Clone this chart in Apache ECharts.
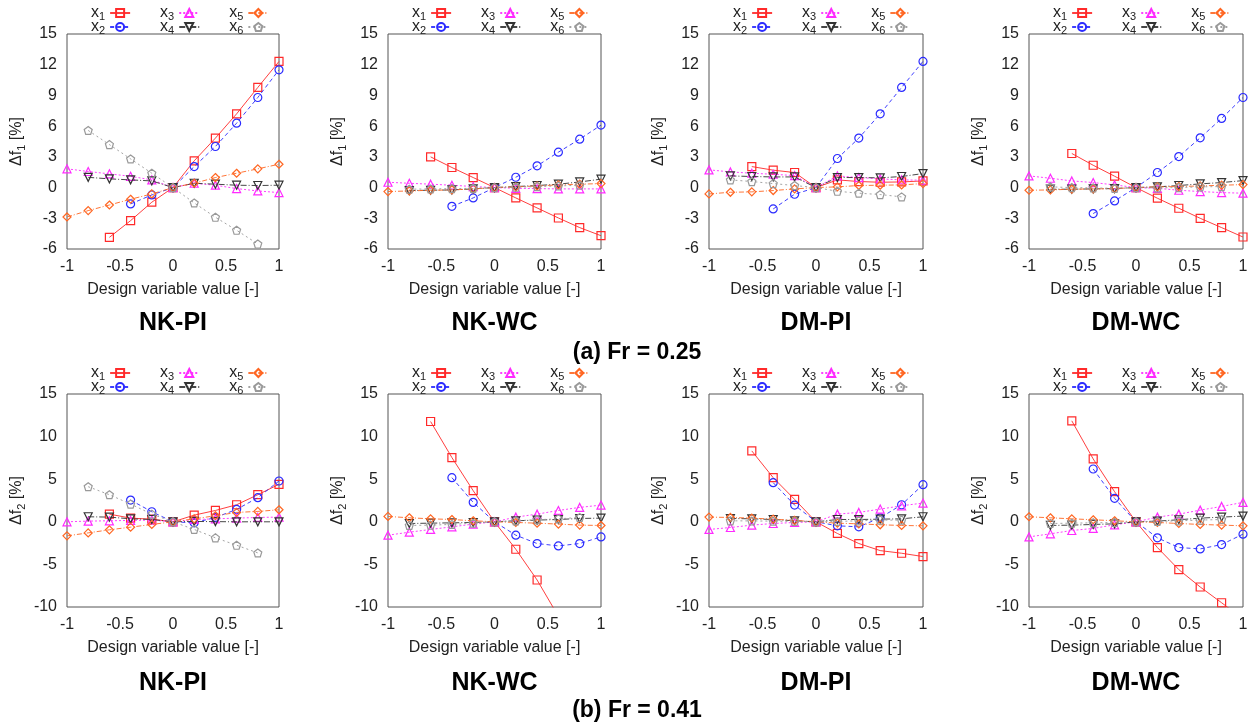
<!DOCTYPE html>
<html>
<head>
<meta charset="utf-8">
<script src="https://cdn.jsdelivr.net/npm/echarts@6/dist/echarts.min.js"></script>
<style>
html,body{margin:0;padding:0;background:#fff;}
#chart{width:1251px;height:722px;}
</style>
</head>
<body>
<div id="chart"></div>
<script>
// ---------- data ----------
const X = [-1, -0.8, -0.6, -0.4, -0.2, 0, 0.2, 0.4, 0.6, 0.8, 1];
const VAR_NAMES = ['x1', 'x2', 'x3', 'x4', 'x5', 'x6'];
const PANEL_TITLES = ['NK-PI', 'NK-WC', 'DM-PI', 'DM-WC'];
const ROW_CAPTIONS = ['(a) Fr = 0.25', '(b) Fr = 0.41'];
const X_NAME = 'Design variable value [-]';

// Fr = 0.25, Δf1 [%]  (rows: x1..x6, columns follow X)
const nkPi025 = [
  [null, null, -4.86, -3.23, -1.43, 0, 2.61, 4.83, 7.2, 9.78, 12.32],
  [null, null, null, -1.6, -0.72, 0, 2.05, 4.01, 6.29, 8.8, 11.5],
  [1.83, 1.57, 1.34, 1.1, 0.75, 0, 0.42, 0.23, -0.1, -0.33, -0.49],
  [null, 1.0, 0.85, 0.75, 0.65, 0, 0.42, 0.33, 0.23, 0.2, 0.23],
  [-2.87, -2.25, -1.7, -1.14, -0.62, 0, 0.42, 0.98, 1.4, 1.83, 2.28],
  [null, 5.58, 4.2, 2.8, 1.4, 0, -1.5, -2.9, -4.17, -5.51, null]
];
const nkWc025 = [
  [null, null, 3.0, 1.96, 0.98, 0, -1.01, -1.99, -2.97, -3.91, -4.7],
  [null, null, null, -1.83, -1.01, 0, 1.01, 2.12, 3.46, 4.73, 6.1],
  [0.52, 0.42, 0.33, 0.23, 0.1, 0, -0.07, -0.1, -0.13, -0.13, -0.13],
  [null, -0.29, -0.26, -0.23, -0.13, 0, 0.1, 0.2, 0.33, 0.55, 0.82],
  [-0.39, -0.33, -0.26, -0.23, -0.13, 0, 0.07, 0.16, 0.26, 0.33, 0.39],
  [null, -0.16, -0.13, -0.1, -0.07, 0, 0.03, 0.1, 0.16, 0.23, null]
];
const dmPi025 = [
  [null, null, 2.05, 1.7, 1.47, 0, 0.75, 0.59, 0.52, 0.55, 0.65],
  [null, null, null, -2.09, -0.65, 0, 2.84, 4.83, 7.2, 9.78, 12.32],
  [1.73, 1.53, 1.4, 1.3, 1.17, 0, 1.14, 0.98, 0.85, 0.75, 0.72],
  [null, 1.14, 1.08, 1.04, 1.04, 0, 0.98, 0.98, 0.95, 1.08, 1.37],
  [-0.62, -0.46, -0.42, -0.29, -0.13, 0, 0.07, 0.2, 0.23, 0.26, 0.39],
  [null, 0.75, 0.59, 0.39, 0.2, 0, -0.36, -0.55, -0.68, -0.91, null]
];
const dmWc025 = [
  [null, null, 3.33, 2.18, 1.11, 0, -1.04, -2.02, -3.0, -3.91, -4.83],
  [null, null, null, -2.54, -1.3, 0, 1.47, 3.03, 4.86, 6.75, 8.8],
  [1.14, 0.91, 0.65, 0.49, 0.26, 0, -0.07, -0.26, -0.39, -0.49, -0.55],
  [null, -0.16, -0.16, -0.13, -0.1, 0, 0.07, 0.2, 0.36, 0.49, 0.68],
  [-0.26, -0.23, -0.16, -0.13, -0.1, 0, 0.07, 0.1, 0.16, 0.23, 0.29],
  [null, 0.07, 0.0, -0.03, -0.07, 0, -0.03, 0.0, 0.07, 0.1, null]
];
// Fr = 0.41, Δf2 [%]
const nkPi041 = [
  [null, null, 0.9, 0.43, 0.31, 0, 0.78, 1.33, 2.0, 3.18, 4.4],
  [null, null, null, 2.55, 1.18, 0, -0.12, 0.51, 1.45, 2.83, 4.79],
  [0, 0.08, 0.12, 0.16, 0.2, 0, 0.27, 0.35, 0.43, 0.51, 0.55],
  [null, 0.59, 0.55, 0.35, 0.27, 0, 0.04, 0.02, 0, 0, 0],
  [-1.65, -1.3, -0.94, -0.63, -0.31, 0, 0.35, 0.71, 1.1, 1.22, 1.41],
  [null, 4.12, 3.18, 2.08, 0.9, 0, -0.9, -1.88, -2.75, -3.65, null]
];
const nkWc041 = [
  [null, null, 11.77, 7.54, 3.65, 0, -3.22, -6.83, -11.1, null, null],
  [null, null, null, 5.18, 2.28, 0, -1.57, -2.55, -2.83, -2.55, -1.77],
  [-1.57, -1.22, -0.9, -0.59, -0.27, 0, 0.55, 0.9, 1.33, 1.69, 1.96],
  [null, -0.2, -0.16, -0.12, -0.08, 0, 0.12, 0.2, 0.27, 0.39, 0.43],
  [0.63, 0.47, 0.35, 0.27, 0.12, 0, -0.08, -0.16, -0.27, -0.39, -0.43],
  [null, -0.43, -0.39, -0.31, -0.16, 0, 0.12, 0.24, 0.35, 0.51, null]
];
const dmPi041 = [
  [null, null, 8.32, 5.18, 2.63, 0, -1.37, -2.55, -3.38, -3.69, -4.08],
  [null, null, null, 4.59, 1.96, 0, -0.47, -0.59, 0.47, 2.0, 4.36],
  [-0.9, -0.67, -0.39, -0.2, -0.08, 0, 0.9, 1.1, 1.49, 1.88, 2.2],
  [null, 0.39, 0.35, 0.27, 0.12, 0, 0.27, 0.27, 0.31, 0.35, 0.59],
  [0.55, 0.51, 0.43, 0.31, 0.16, 0, -0.16, -0.24, -0.35, -0.43, -0.47],
  [null, 0.12, 0.1, 0.08, 0.04, 0, 0.04, 0.12, 0.2, 0.2, null]
];
const dmWc041 = [
  [null, null, 11.85, 7.38, 3.53, 0, -3.02, -5.61, -7.65, -9.5, -11.4],
  [null, null, null, 6.2, 2.75, 0, -1.88, -3.02, -3.18, -2.67, -1.45],
  [-1.77, -1.41, -1.02, -0.78, -0.35, 0, 0.55, 0.9, 1.37, 1.8, 2.28],
  [null, -0.43, -0.39, -0.31, -0.24, 0, 0.08, 0.24, 0.43, 0.55, 0.67],
  [0.59, 0.47, 0.35, 0.24, 0.12, 0, -0.08, -0.2, -0.31, -0.39, -0.47],
  [null, -0.2, -0.16, -0.12, -0.08, 0, 0.04, 0.12, 0.2, 0.27, null]
];

const PANELS = [nkPi025, nkWc025, dmPi025, dmWc025, nkPi041, nkWc041, dmPi041, dmWc041];
const Y_RANGES = [[-6, 15, 3], [-10, 15, 5]];

// ---------- styles ----------
const FONT = 'Liberation Sans, Arial, Helvetica, sans-serif';
const STYLES = [
  { color: '#ff2a2a', symbol: 'rect', line: 'solid' },
  { color: '#2a2aff', symbol: 'circle', line: [4, 3] },
  { color: '#ff2aff', symbol: 'triangle', line: [2, 2] },
  { color: '#333333', symbol: 'path://M0,0 L10,0 L5,9 Z', line: [6, 2, 1, 2] },
  { color: '#ff6622', symbol: 'path://M5,0 L10,5 L5,10 L0,5 Z', line: [5, 2, 1, 2] },
  { color: '#999999', symbol: 'path://M5,0 L10,3.8 L8.1,10 L1.9,10 L0,3.8 Z', line: [2, 3] }
];

const GRID_LEFTS = [67, 388, 709, 1029];
const GRID_WIDTHS = [212, 213, 214, 214];
const ROW_TOPS = [34, 394];
const ROW_HEIGHTS = [215, 213];
const LEGEND_TOPS = [[5, 19], [365, 379]];
const TITLE_Y = [323, 683];
const CAPTION_Y = [353, 711];

const grids = [], xAxes = [], yAxes = [], series = [], legends = [], graphics = [];

for (let p = 0; p < 8; p++) {
  const row = p < 4 ? 0 : 1, col = p % 4;
  const yr = Y_RANGES[row];
  grids.push({
    left: GRID_LEFTS[col], top: ROW_TOPS[row], width: GRID_WIDTHS[col], height: ROW_HEIGHTS[row],
    show: true, borderColor: '#555', borderWidth: 1, backgroundColor: 'transparent'
  });
  xAxes.push({
    gridIndex: p, type: 'value', min: -1, max: 1, interval: 0.5,
    axisLine: { show: false }, axisTick: { show: false }, splitLine: { show: false },
    axisLabel: { color: '#222', fontSize: 16, fontFamily: FONT, margin: 10 },
    name: X_NAME, nameLocation: 'middle', nameGap: 33,
    nameTextStyle: { color: '#222', fontSize: 16, fontFamily: FONT }
  });
  yAxes.push({
    gridIndex: p, type: 'value', min: yr[0], max: yr[1], interval: yr[2],
    axisLine: { show: false }, axisTick: { show: false }, splitLine: { show: false },
    axisLabel: { color: '#222', fontSize: 16, fontFamily: FONT, margin: 10 },
    name: '{d|Δf}{s|' + (row + 1) + '}{d| [%]}', nameLocation: 'middle', nameGap: 40, nameRotate: 90,
    nameTextStyle: {
      color: '#222', fontFamily: FONT,
      rich: {
        d: { fontSize: 16, fontFamily: FONT, color: '#222' },
        s: { fontSize: 11, fontFamily: FONT, color: '#222', padding: [9, 0, 0, 0] }
      }
    }
  });
  const data = PANELS[p];
  for (let v = 0; v < 6; v++) {
    const st = STYLES[v];
    const pts = [];
    for (let i = 0; i < X.length; i++) {
      if (data[v][i] !== null) pts.push([X[i], data[v][i]]);
    }
    series.push({
      type: 'line', name: VAR_NAMES[v], xAxisIndex: p, yAxisIndex: p,
      data: pts, symbol: st.symbol, symbolSize: 8, showSymbol: true,
      clip: true, silent: true, animation: false,
      lineStyle: { color: st.color, width: 1, type: st.line, opacity: 0.9 },
      itemStyle: { color: 'rgba(255,255,255,0)', borderColor: st.color, borderWidth: 1.2 },
      z: 2 + v
    });
  }
  for (let r = 0; r < 2; r++) {
    legends.push({
      left: GRID_LEFTS[col] + 24, top: LEGEND_TOPS[row][r], orient: 'horizontal', padding: 0,
      data: [VAR_NAMES[r], VAR_NAMES[r + 2], VAR_NAMES[r + 4]],
      align: 'right', itemGap: 29, itemWidth: 20, itemHeight: 10, selectedMode: false,
      formatter: function (name) { return '{a|x}{b|' + name.slice(1) + '}'; },
      textStyle: {
        color: '#222', fontFamily: FONT,
        rich: {
          a: { fontSize: 16, fontFamily: FONT, color: '#222' },
          b: { fontSize: 11, fontFamily: FONT, color: '#222', padding: [8, 0, 0, 0] }
        }
      }
    });
  }
  graphics.push({
    type: 'text', x: GRID_LEFTS[col] + GRID_WIDTHS[col] / 2, y: TITLE_Y[row],
    style: { text: PANEL_TITLES[col], font: 'bold 25px ' + FONT, fill: '#000', textAlign: 'center', textVerticalAlign: 'middle' }
  });
}
for (let r = 0; r < 2; r++) {
  graphics.push({
    type: 'text', x: 637, y: CAPTION_Y[r],
    style: { text: ROW_CAPTIONS[r], font: 'bold 23px ' + FONT, fill: '#000', textAlign: 'center', textVerticalAlign: 'middle' }
  });
}

const chart = echarts.init(document.getElementById('chart'), null, { renderer: 'canvas' });
chart.setOption({
  animation: false,
  backgroundColor: '#fff',
  grid: grids, xAxis: xAxes, yAxis: yAxes, series: series, legend: legends,
  graphic: graphics
});
</script>
</body>
</html>
